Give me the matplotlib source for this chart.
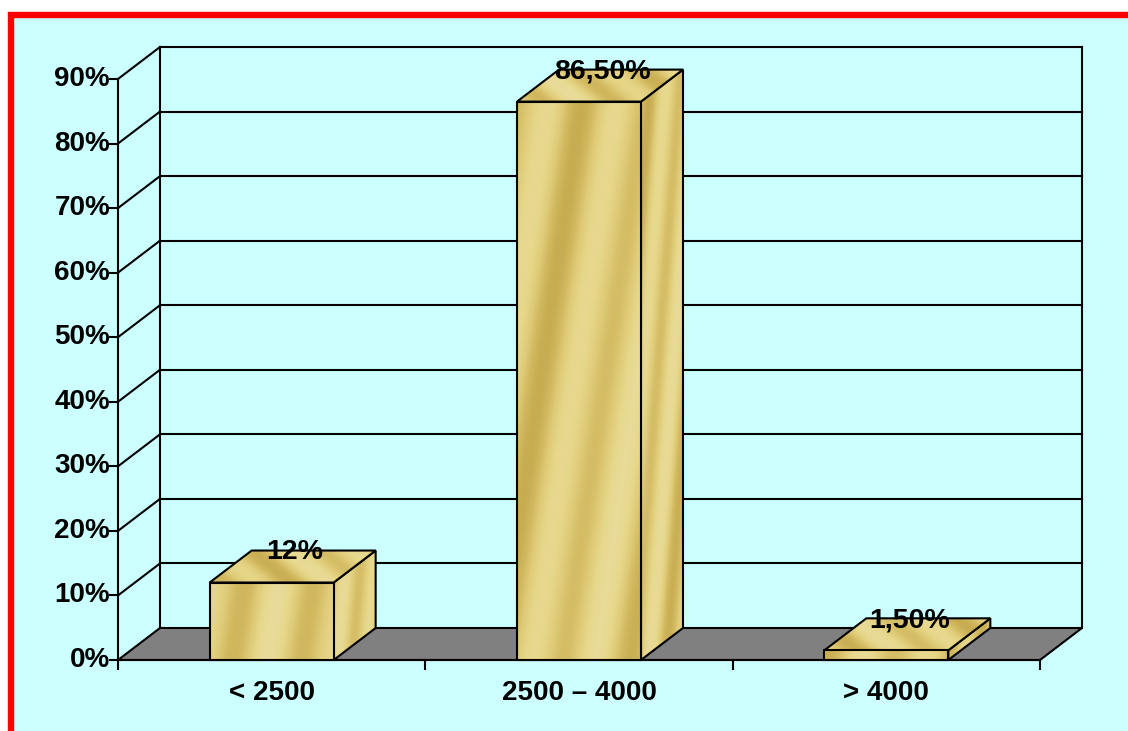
import numpy as np
import matplotlib
matplotlib.use("Agg")
import matplotlib.pyplot as plt
from matplotlib.patches import Polygon, Rectangle
from matplotlib.colors import LinearSegmentedColormap

# ---- data ----
categories = ["< 2500", "2500 \u2013 4000", "> 4000"]
values = [12, 86.5, 1.5]
value_labels = ["12%", "86,50%", "1,50%"]
y_ticks = [0, 10, 20, 30, 40, 50, 60, 70, 80, 90]
y_tick_labels = [f"{t}%" for t in y_ticks]

# ---- geometry (pixels of the front plane) ----
W, H = 1128, 731
FX0, FX1 = 118, 1040       # front plane x extent
FY0, FY1 = 660, 79         # pixel y of 0% and 90%
ymax = 90
ncat = len(categories)
ppx = (FX1 - FX0) / ncat   # pixels per category unit
ppy = (FY0 - FY1) / ymax   # pixels per percent
DX = 42 / ppx              # depth offset in data units
DY = 32 / ppy
bar_w = 124 / ppx

fig = plt.figure(figsize=(W / 100, H / 100), dpi=100)
fig.patch.set_facecolor("white")
# red frame with cyan fill (extends past right and bottom edges)
fl, ft = 10.5 / W, 1 - 14.5 / H
fig.patches.append(Rectangle((fl, -0.2), 1.2, ft + 0.2, transform=fig.transFigure,
                             facecolor="#CCFFFF", edgecolor="#FF0000", linewidth=4.6,
                             zorder=-5))

ax = fig.add_axes([0, 0, 1, 1])
ax.set_zorder(1)
ax.set_xlim(-0.5 - FX0 / ppx, ncat - 0.5 + (W - FX1) / ppx)
ax.set_ylim(-(H - FY0) / ppy, ymax + FY1 / ppy)
ax.axis("off")
ax.patch.set_alpha(0)

x0, x1 = -0.5, ncat - 0.5
lw = 1.5
font = dict(family=["Liberation Sans", "DejaVu Sans"], fontweight="bold", fontsize=20)

# floor
floor = Polygon([(x0, 0), (x0 + DX, DY), (x1 + DX, DY), (x1, 0)], closed=True,
                facecolor="#808080", edgecolor="black", linewidth=lw, zorder=2)
ax.add_patch(floor)

# back wall + side wall gridlines
for t in y_ticks:
    if t == 0:
        continue
    ax.plot([x0 + DX, x1 + DX], [t + DY, t + DY], color="black", lw=lw, zorder=1)
    ax.plot([x0, x0 + DX], [t, t + DY], color="black", lw=lw, zorder=1)
ax.plot([x0 + DX, x0 + DX], [DY, ymax + DY], color="black", lw=lw, zorder=1)
ax.plot([x1 + DX, x1 + DX], [DY, ymax + DY], color="black", lw=lw, zorder=1)
# front axis lines
ax.plot([x0, x0], [0, ymax], color="black", lw=lw, zorder=3)
ax.plot([x0, x1], [0, 0], color="black", lw=lw, zorder=3)

# y ticks and labels
for t, lab in zip(y_ticks, y_tick_labels):
    ax.plot([x0 - 8 / ppx, x0], [t, t], color="black", lw=lw, zorder=3)
    ax.text(x0 - 8 / ppx, t, lab, ha="right", va="center", **font)

# x ticks and labels
for b in np.arange(ncat + 1) - 0.5:
    ax.plot([b, b], [0, -9 / ppy], color="black", lw=lw, zorder=3)
for i, c in enumerate(categories):
    ax.text(i, -33 / ppy, c, ha="center", va="center", **font)

# gold texture
gold = LinearSegmentedColormap.from_list(
    "gold", ["#C4A84C", "#D2B960", "#DFCB78", "#E6D789", "#E9DC9C"])


def textured(poly_pts, phase, z, period=8.0, slant=0.18):
    pts = np.array(poly_pts)
    xa, xb = pts[:, 0].min(), pts[:, 0].max()
    ya, yb = pts[:, 1].min(), pts[:, 1].max()
    nx = max(int((xb - xa) * ppx), 4)
    ny = max(int((yb - ya) * ppy), 4)
    gx, gy = np.meshgrid(np.linspace(xa, xb, nx) * ppx, np.linspace(yb, ya, ny) * ppy)
    u = (gx - slant * gy) / period + phase
    v = 0.52 + 0.33 * np.sin(u) + 0.13 * np.sin(0.43 * u + 0.8)
    im = ax.imshow(v, extent=[xa, xb, ya, yb], cmap=gold, vmin=0, vmax=1,
                   aspect="auto", interpolation="bilinear", zorder=z)
    patch = Polygon(poly_pts, closed=True, facecolor="none", edgecolor="black",
                    linewidth=lw, zorder=z + 0.1)
    ax.add_patch(patch)
    im.set_clip_path(patch)


for i, (v, lab) in enumerate(zip(values, value_labels)):
    l, r = i - bar_w / 2, i + bar_w / 2
    front = [(l, 0), (r, 0), (r, v), (l, v)]
    side = [(r, 0), (r + DX, DY), (r + DX, v + DY), (r, v)]
    top = [(l, v), (r, v), (r + DX, v + DY), (l + DX, v + DY)]
    z = 5 + i
    textured(side, 1.2, z, period=5.0, slant=0.08)
    textured(top, 0.7, z + 0.2, period=11.0, slant=-1.2)
    textured(front, 2.0, z + 0.4, period=10.5, slant=0.15)
    ax.text(i + DX / 2 + 2 / ppx, v + DY - 0.3, lab, ha="center", va="center", zorder=20,
            family=["Liberation Sans", "DejaVu Sans"], fontweight="bold", fontsize=20.5)

fig.savefig("out.png", dpi=100, facecolor=fig.get_facecolor())
